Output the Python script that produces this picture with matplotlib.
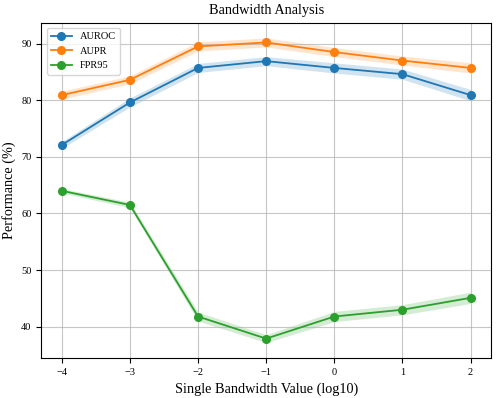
import numpy as np
import matplotlib
matplotlib.use('Agg')
import matplotlib.pyplot as plt

plt.rcParams['font.family'] = ['Liberation Serif', 'DejaVu Serif']

bandwidth_log = [-4, -3, -2, -1, 0, 1, 2]

auroc = [72.1, 79.6, 85.7, 86.9, 85.7, 84.6, 80.9]
auroc_std = [0.6, 0.8, 0.8, 0.8, 0.9, 0.9, 1.0]

aupr = [80.9, 83.6, 89.5, 90.2, 88.5, 87.0, 85.7]
aupr_std = [0.7, 0.7, 0.8, 0.8, 0.8, 0.8, 0.9]

fpr95 = [64.0, 61.5, 41.8, 37.9, 41.8, 43.0, 45.1]
fpr95_std = [0.4, 0.5, 0.8, 0.7, 0.9, 0.9, 1.0]

series = [
    ('AUROC', auroc, auroc_std, '#1f77b4'),
    ('AUPR', aupr, aupr_std, '#ff7f0e'),
    ('FPR95', fpr95, fpr95_std, '#2ca02c'),
]

fig, ax = plt.subplots(figsize=(4.98, 3.98), dpi=100)
fig.subplots_adjust(left=0.083, right=0.986, top=0.943, bottom=0.101)

x = np.array(bandwidth_log)
for name, vals, std, color in series:
    vals = np.array(vals)
    std = np.array(std)
    ax.plot(x, vals, marker='o', color=color, label=name, linewidth=1.3, markersize=5.5)
    ax.fill_between(x, vals - std, vals + std, color=color, alpha=0.2, linewidth=0)

ax.set_title('Bandwidth Analysis', fontsize=10.3)
ax.set_xlabel('Single Bandwidth Value (log10)', fontsize=10.3)
ax.set_ylabel('Performance (%)', fontsize=10.3)
ax.set_xticks(bandwidth_log)
ax.tick_params(labelsize=7.5)
ax.grid(True, alpha=0.7)
ax.legend(loc='upper left', fontsize=7.5)

plt.savefig('out.png', dpi=100)
